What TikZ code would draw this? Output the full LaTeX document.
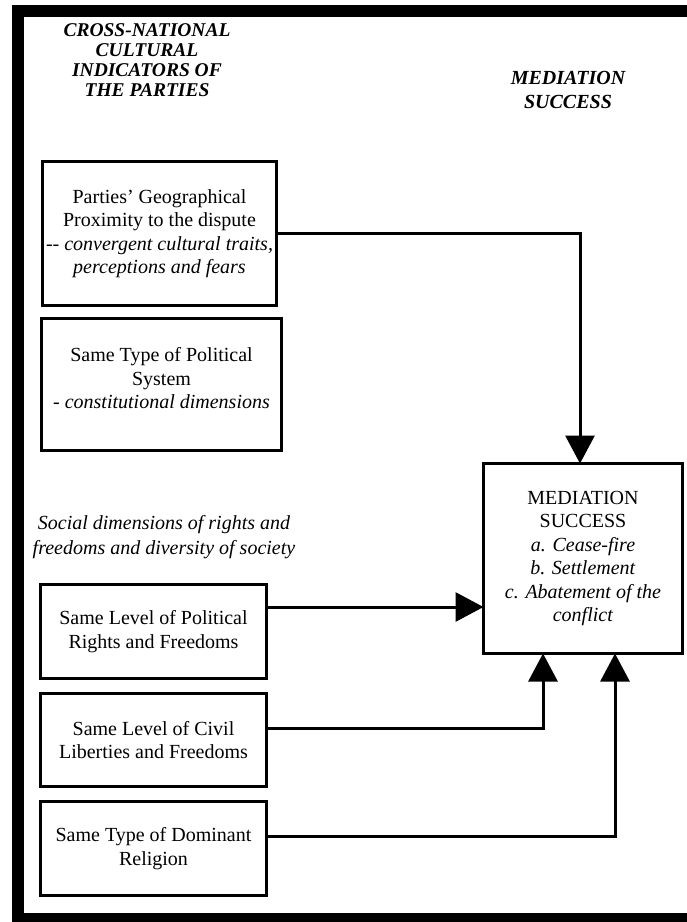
\documentclass[tikz,border=0pt]{standalone}
\usepackage{fontspec}
\setmainfont{Liberation Serif}
\usetikzlibrary{arrows.meta}

\begin{document}
\begin{tikzpicture}[x=1pt,y=-1pt,
  every node/.style={inner sep=0pt, outer sep=0pt},
  body/.style={font=\fontsize{20}{23.5}\selectfont, align=center},
  factorbox/.style={body, draw, line width=3pt},
  heading/.style={font=\fontsize{19.5}{20}\selectfont\bfseries\itshape, align=center},
  arr/.style={line width=3pt, -{Triangle[length=28pt,width=29pt]}},
  frame/.style={fill=black}
]
\useasboundingbox (0,0) rectangle (687,922);

% page frame
\fill[frame] (12,5) rectangle (687,17);
\fill[frame] (12,5) rectangle (24,922);
\fill[frame] (12,913) rectangle (687,922);

% column headings
\node[heading] (hleft) at (147,60) {CROSS-NATIONAL\\CULTURAL\\INDICATORS OF\\THE PARTIES};
\node[heading, font=\fontsize{20}{24}\selectfont\bfseries\itshape] (hright) at (568,90) {MEDIATION\\SUCCESS};

% indicator boxes
\node[factorbox, minimum width=234pt, minimum height=144pt] (b1) at (159.5,233.5)
  {Parties’ Geographical\\Proximity to the dispute\\\textit{-{}- convergent cultural traits,}\\\textit{perceptions and fears}};
\node[factorbox, minimum width=240pt, minimum height=132pt] (b2) at (161.5,384.5)
  {Same Type of Political\\System\\\textit{- constitutional dimensions}\\[-11pt]};

\node[body, font=\fontsize{20}{24.5}\selectfont\itshape] (social) at (164,537)
  {Social dimensions of rights and\\freedoms and diversity of society};

\node[factorbox, minimum width=226pt, minimum height=94pt] (b3) at (153.5,631.5)
  {Same Level of Political\\Rights and Freedoms};
\node[factorbox, minimum width=226pt, minimum height=93pt] (b4) at (153.5,740)
  {Same Level of Civil\\Liberties and Freedoms};
\node[factorbox, minimum width=226pt, minimum height=94pt] (b5) at (153.5,848.5)
  {Same Type of Dominant\\Religion};

% outcome box
\node[factorbox, minimum width=199pt, minimum height=190pt] (m) at (583,558.5)
  {MEDIATION\\SUCCESS\\\textit{a. Cease-fire}\\\textit{b. Settlement}\\\textit{c. Abatement of the}\\\textit{conflict}};

% connectors
\draw[arr] (b1.east) -| ([xshift=-3pt]m.north);
\draw[arr] ([yshift=24.5pt]b3.east) -- ([yshift=24.5pt]b3.east -| m.west);
\draw[arr] ([yshift=12pt]b4.east) -| ([xshift=-40pt]m.south);
\draw[arr] ([yshift=12.5pt]b5.east) -| ([xshift=32pt]m.south);
\end{tikzpicture}
\end{document}
